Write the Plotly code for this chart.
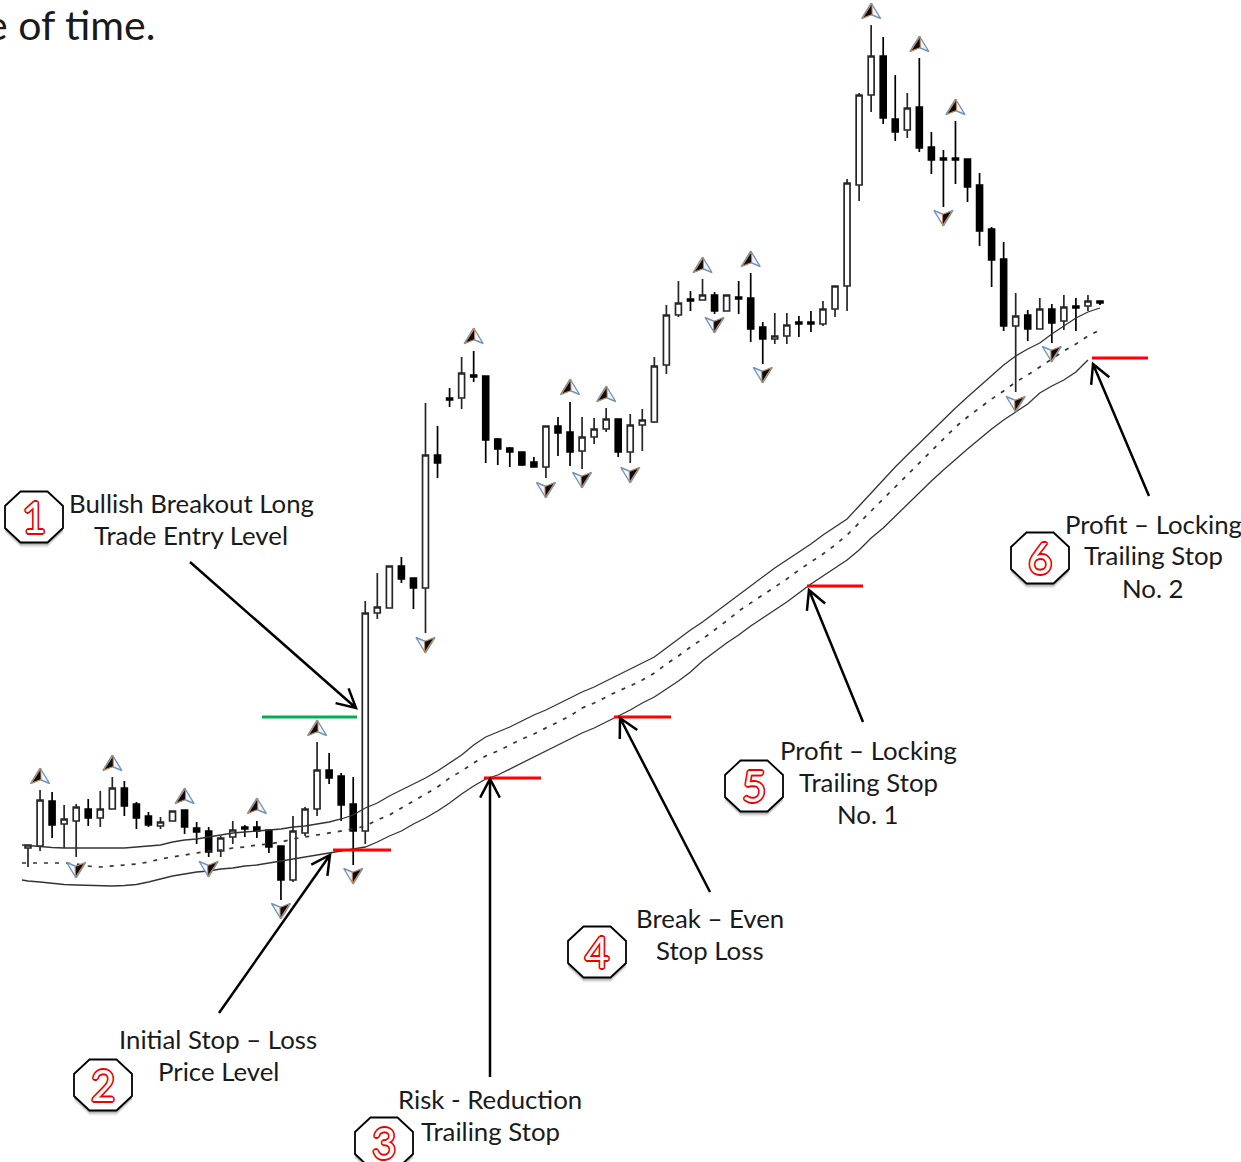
import plotly.graph_objects as go

W, H = 1241, 1162
PITCH = 12.045   # screen px per bar
FIRST = 28       # screen px of bar 0

# ---- data, as distance from the top of the picture ----
candle_index = list(range(90))
candle_open = [848,846,801,824,821,809,818,809,788,804,
               816,826,821,810,828,831,851,837,827,827,
               830,846,880,833,809,770,776,804,831,613,
               608,566,578,588,455,398,398,375,376,439,
               448,452,462,467,426,432,451,437,429,419,
               452,425,422,365,315,299,300,295,311,297,
               298,327,339,336,322,322,324,309,286,185,
               95,56,119,130,107,147,158,158,159,185,
               229,259,326,315,329,309,321,306,306,301]
candle_close = [845,800,825,819,807,818,809,788,806,818,
                825,822,811,827,832,852,838,830,829,831,
                847,880,831,809,770,778,805,831,613,607,
                566,579,588,455,463,400,373,377,440,449,
                452,465,467,426,433,452,437,429,419,452,
                425,420,366,315,303,301,295,311,295,299,
                329,339,336,325,324,324,309,286,183,95,
                56,118,132,108,148,160,160,160,187,231,
                260,326,316,329,309,323,307,308,301,303]
candle_high = [845,790,792,805,804,799,791,777,781,802,
               812,817,811,810,822,827,836,821,825,821,
               830,846,816,807,742,753,773,777,601,573,
               566,557,578,403,426,388,357,351,376,438,
               447,452,457,426,417,402,417,418,408,419,
               414,409,357,305,281,291,279,292,295,281,
               273,322,313,313,316,311,301,286,179,93,
               25,37,75,93,58,132,150,121,159,173,
               227,242,293,310,298,304,295,298,295,301]
candle_low = [867,851,838,848,857,826,827,809,816,829,
              827,829,821,834,844,857,857,844,837,838,
              853,900,882,836,816,784,821,865,844,619,
              608,583,609,633,478,407,409,382,463,465,
              467,466,467,478,456,466,469,444,432,457,
              463,451,423,374,317,311,300,314,311,314,
              342,364,344,344,337,332,326,317,311,201,
              112,124,141,138,152,174,207,184,202,246,
              287,331,392,341,329,343,330,331,311,305]

band_index = [-0.5] + candle_index
band_upper = [845,845.5,847,847.5,848,848,848,848,848,848,847,
              846,845,842,840,839,837,835,833,832,831,
              830,829,827,826,824,822,819,815,808,803,
              796,790,784,778,771,763,755,745,737,732,
              727,721,715,710,704,698,692,687,681,675,
              669,663,657,648,639,630,622,613,604,595,
              586,577,568,560,552,544,535,527,519,506,
              493,479,467,455,443,431,419,408,397,386,
              375,365,356,349,343,334,326,318,312,308]
band_middle = [863,863,863,863,863,864,866,867,866,865,864,
               862,859,857,855,853,851,850,848,847,845,
               844,842,839,837,835,833,831,829,826,820,
               815,808,801,794,787,778,771,763,756,751,
               745,739,734,728,722,716,708,703,697,691,
               686,680,673,664,656,647,639,630,621,611,
               603,595,587,579,570,562,554,545,535,523,
               511,499,487,475,463,451,439,427,417,408,
               399,391,382,375,367,359,351,344,336,330]
band_lower = [880,881,882,883.5,884.5,885,885.5,886,886,885.5,884.5,
              882,879,876,874,872,871,869,868,866,865,
              863,861,859,857,855,853,851,849,847,842,
              836,831,824,818,811,803,794,786,779,775,
              769,763,757,751,745,739,733,728,722,716,
              710,703,697,689,681,672,661,652,643,635,
              626,618,610,602,593,584,576,568,560,550,
              538,528,516,504,492,481,470,459,449,439,
              429,420,412,404,393,386,380,372,360,None]

fractal_up_index = [1,7,13,19,24,37,45,48,56,60,70,74,77]
fractal_up_value = [776,763,796,806,728,336,387,394,265,259,11,44,107]
fractal_down_index = [4,15,21,27,33,43,46,50,57,61,76,82,85]
fractal_down_value = [870,869,911,876,645,490,480,475,325,375,218,404,354]

label_texts = ["Bullish Breakout Long","Trade Entry Level","Initial Stop – Loss","Price Level",
               "Risk - Reduction","Trailing Stop","Break – Even","Stop Loss",
               "Profit – Locking","Trailing Stop","No. 1","Profit – Locking","Trailing Stop","No. 2"]
label_x = [191,191,218,218,490,490,710,710,868,868,868,1153,1153,1153]
label_y = [504,536,1040,1072,1100,1132,919,951,751,783,815,525,557,589]
badge_text = ["1","2","3","4","5","6"]
badge_x = [34,103,384,597,754,1040]
badge_y = [517,1085,1143,952,786,558]
level_x0 = [333,484,614,807,1092]
level_x1 = [391,541,671,863,1148]
level_y = [850,778,717,586,358]
arrow_tail = [(190,562),(219,1013),(490,1077),(710,892),(863,722),(1149,496)]
arrow_tip = [(356,708),(330,855),(490,779),(620,718),(809,590),(1093,364)]

FONT = "Lato, 'Open Sans', sans-serif"


def price(values):
    return [None if v is None else H - v for v in values]


def px(x):
    return x / W


def py(y):
    return 1 - y / H


def glyph(indices, values, flip):
    """one arrow-head polygon per fractal, sized in screen px"""
    s = -1 if flip else 1
    xs_all, ys_all, xs_half, ys_half = [], [], [], []
    for i, v in zip(indices, values):
        pts = [(0, -8), (9.5, 7.5), (0, 3.5), (-9.5, 7.5), (0, -8)]
        half = [(0.8, -7.5), (1, 3.5), (-8.5, 7), (0.8, -7.5)]
        xs_all += [i + s * a / PITCH for a, _ in pts] + [None]
        ys_all += [H - (v + s * b) for _, b in pts] + [None]
        xs_half += [i + s * a / PITCH for a, _ in half] + [None]
        ys_half += [H - (v + s * b) for _, b in half] + [None]
    return [
        go.Scatter(x=xs_all, y=ys_all, mode="lines", fill="toself", fillcolor="#f2f5fa",
                   line=dict(color="#6f93bd", width=1.4), hoverinfo="skip", showlegend=False),
        go.Scatter(x=xs_half, y=ys_half, mode="lines", fill="toself", fillcolor="#0c0c12",
                   line=dict(color="#c98a4a", width=1), hoverinfo="skip", showlegend=False),
    ]


fig = go.Figure()
for vals, dash, lw in ((band_upper, "solid", 1.3), (band_middle, "4px,7px", 1.7), (band_lower, "solid", 1.3)):
    fig.add_trace(go.Scatter(x=band_index, y=price(vals), mode="lines", showlegend=False, hoverinfo="skip",
                             line=dict(color="#333333", width=lw, dash=dash)))

fig.add_trace(go.Candlestick(
    x=candle_index, open=price(candle_open), high=price(candle_high), low=price(candle_low),
    close=price(candle_close), whiskerwidth=0, showlegend=False,
    increasing=dict(line=dict(color="#262626", width=1.7), fillcolor="white"),
    decreasing=dict(line=dict(color="#000000", width=1.7), fillcolor="#000000"),
))
for t in glyph(fractal_up_index, fractal_up_value, False):
    fig.add_trace(t)
for t in glyph(fractal_down_index, fractal_down_value, True):
    fig.add_trace(t)

shapes = []
annotations = []

# green entry level and red stop levels
shapes.append(dict(type="line", xref="paper", yref="paper", x0=px(262), x1=px(357), y0=py(717), y1=py(717),
                   line=dict(color="#00b050", width=3)))
for a, b, c in zip(level_x0, level_x1, level_y):
    shapes.append(dict(type="line", xref="paper", yref="paper", x0=px(a), x1=px(b), y0=py(c), y1=py(c),
                       line=dict(color="#ff0000", width=3)))

# arrows with open heads
for (tx, ty), (hx, hy) in zip(arrow_tail, arrow_tip):
    dx, dy = tx - hx, ty - hy
    n = (dx * dx + dy * dy) ** 0.5
    ux, uy = dx / n, dy / n
    c, s = 0.883, 0.469
    L = 21
    b1 = (hx + L * (ux * c - uy * s), hy + L * (ux * s + uy * c))
    b2 = (hx + L * (ux * c + uy * s), hy + L * (-ux * s + uy * c))
    path = (f"M{px(tx)},{py(ty)}L{px(hx)},{py(hy)}"
            f"M{px(b1[0])},{py(b1[1])}L{px(hx)},{py(hy)}L{px(b2[0])},{py(b2[1])}")
    shapes.append(dict(type="path", xref="paper", yref="paper", path=path,
                       line=dict(color="#000000", width=2.5)))


# octagon badges
def octagon(cx, cy):
    p = [(-13.5, -25.5), (13.5, -25.5), (29, -11), (29, 11), (13.5, 25.5), (-13.5, 25.5), (-29, 11), (-29, -11)]
    return "M" + "L".join(f"{px(cx + a)},{py(cy + b)}" for a, b in p) + "Z"


ring = ",".join(f"{a}px {b}px 0 #f00000" for a, b in
                [(1.6, 0), (-1.6, 0), (0, 1.6), (0, -1.6), (1.2, 1.2), (-1.2, 1.2), (1.2, -1.2), (-1.2, -1.2)])
for t, cx, cy in zip(badge_text, badge_x, badge_y):
    for off, op in ((5, 0.05), (4, 0.08), (3, 0.1), (2, 0.12)):
        shapes.append(dict(type="path", xref="paper", yref="paper", path=octagon(cx, cy + off),
                           fillcolor="black", opacity=op, line=dict(width=0)))
    shapes.append(dict(type="path", xref="paper", yref="paper", path=octagon(cx, cy), fillcolor="white",
                       line=dict(color="#000000", width=1.8)))
    annotations.append(dict(text=t, xref="paper", yref="paper", x=px(cx), y=py(cy), showarrow=False,
                            xanchor="center", yanchor="middle",
                            font=dict(family=FONT, size=42, color="white", shadow=ring)))

for t, x, y in zip(label_texts, label_x, label_y):
    annotations.append(dict(text=t, xref="paper", yref="paper", x=px(x), y=py(y - 1.5), showarrow=False,
                            xanchor="center", yanchor="middle",
                            font=dict(family=FONT, size=25.8, color="#1a1a1a")))

annotations.append(dict(text="e of time.", xref="paper", yref="paper", x=px(157), y=py(24), showarrow=False,
                        xanchor="right", yanchor="middle", font=dict(family=FONT, size=41, color="#1a1a1a")))

fig.update_layout(
    width=W, height=H, margin=dict(l=0, r=0, t=0, b=0), autosize=False,
    paper_bgcolor="white", plot_bgcolor="white", showlegend=False,
    shapes=shapes, annotations=annotations,
    xaxis=dict(range=[(0 - FIRST) / PITCH, (W - FIRST) / PITCH], visible=False, rangeslider=dict(visible=False)),
    yaxis=dict(range=[0, H], visible=False),
)
fig.write_html("out.html", config={"displayModeBar": False},
               post_script="document.body.style.margin='0';document.body.style.overflow='hidden';")
